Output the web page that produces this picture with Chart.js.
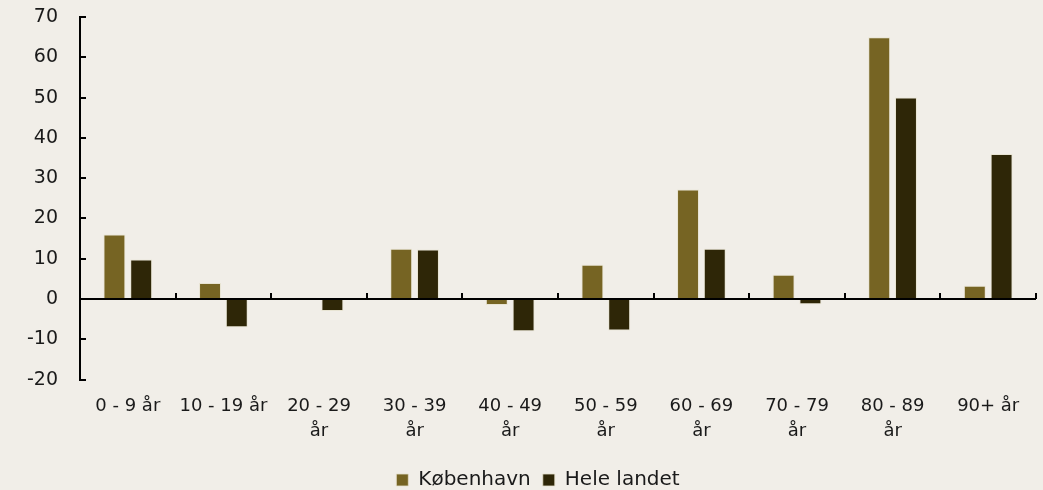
<!DOCTYPE html>
<html><head><meta charset="utf-8">
<script src="https://cdn.jsdelivr.net/npm/chart.js@4"></script>
<style>html,body{margin:0;padding:0;background:#F1EEE8;}#wrap{width:1043px;height:490px;}</style>
</head><body><div id="wrap"><canvas id="c" width="1043" height="490"></canvas></div>
<script>
const categories = ['0 - 9 år', '10 - 19 år', ['20 - 29', 'år'], ['30 - 39', 'år'], ['40 - 49', 'år'], ['50 - 59', 'år'], ['60 - 69', 'år'], ['70 - 79', 'år'], ['80 - 89', 'år'], '90+ år'];
const kobenhavn = [16, 4, 0.3, 12.5, -1.5, 8.5, 27.2, 6, 65, 3.3];
const heleLandet = [9.8, -7, -3, 12.3, -8, -7.8, 12.5, -1.3, 50, 36];
const seriesNames = ['København', 'Hele landet'];
const yTicks = { min: -20, max: 70, step: 10 };

const axisPlugin = {
  id: 'axisMarks',
  afterLayout(chart) {
    if (chart.legend) { chart.legend.left += 8; chart.legend.right += 8; }
  },
  afterDatasetsDraw(chart) {
    const ctx = chart.ctx, x = chart.scales.x, y = chart.scales.y;
    const y0 = Math.round(y.getPixelForValue(0));
    ctx.save();
    ctx.strokeStyle = '#000'; ctx.lineWidth = 2;
    ctx.beginPath(); ctx.moveTo(x.left, y0); ctx.lineTo(x.right, y0); ctx.stroke();
    const n = categories.length;
    const step = x.getPixelForValue(1) - x.getPixelForValue(0);
    for (let i = 0; i < n; i++) {
      const px = Math.round(x.getPixelForValue(i) + step / 2);
      ctx.beginPath(); ctx.moveTo(px, y0); ctx.lineTo(px, y0 - 6); ctx.stroke();
    }
    for (let v = yTicks.min; v <= yTicks.max; v += yTicks.step) {
      const py = Math.round(y.getPixelForValue(v));
      ctx.beginPath(); ctx.moveTo(y.right - 1, py); ctx.lineTo(y.right + 6, py); ctx.stroke();
    }
    ctx.restore();
  }
};

const fam = '"DejaVu Sans", "Noto Sans", sans-serif';
new Chart(document.getElementById('c'), {
  type: 'bar',
  data: {
    labels: categories,
    datasets: [
      { label: seriesNames[0], data: kobenhavn, backgroundColor: '#766423', borderColor: 'rgba(230,225,205,0.8)', borderWidth: 1, borderSkipped: false },
      { label: seriesNames[1], data: heleLandet, backgroundColor: '#2E2607', borderColor: 'rgba(230,225,205,0.8)', borderWidth: 1, borderSkipped: false }
    ]
  },
  options: {
    responsive: false, animation: false, devicePixelRatio: 1,
    layout: { padding: { left: 24, right: 7, top: 17, bottom: -10 } },
    datasets: { bar: { categoryPercentage: 0.56, barPercentage: 0.82 } },
    scales: {
      x: {
        grid: { display: false, drawTicks: false },
        border: { display: false },
        ticks: { color: '#1a1a1a', font: { family: fam, size: 18, lineHeight: 1.4 }, maxRotation: 0, autoSkip: false, padding: 14 }
      },
      y: {
        min: yTicks.min, max: yTicks.max,
        grid: { display: false, drawTicks: false },
        border: { display: true, color: '#000', width: 2 },
        ticks: { stepSize: yTicks.step, color: '#1a1a1a', font: { family: fam, size: 19 }, padding: 22 },
        afterFit(scale) { scale.width = 56; scale.paddingTop = 0; scale.paddingBottom = 0; }
      }
    },
    plugins: {
      legend: {
        position: 'bottom',
        labels: { color: '#1a1a1a', font: { family: fam, size: 20 }, boxWidth: 12, boxHeight: 12, padding: 12 }
      },
      tooltip: { enabled: false }
    }
  },
  plugins: [axisPlugin]
});
</script></body></html>
